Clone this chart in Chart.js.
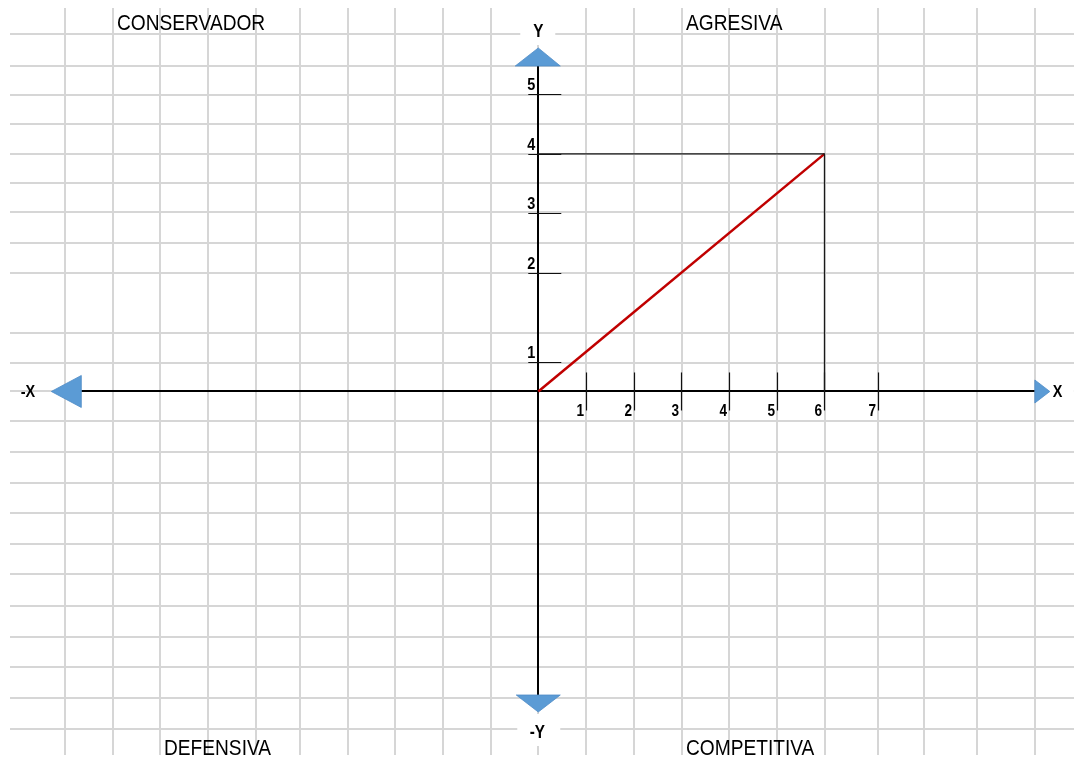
<!DOCTYPE html>
<html><head><meta charset="utf-8">
<script src="https://cdn.jsdelivr.net/npm/chart.js@4.4.1/dist/chart.umd.min.js"></script>
<style>html,body{margin:0;padding:0;background:#fff;overflow:hidden}#wrap{width:1074px;height:757px}</style>
</head><body><div id="wrap"><canvas id="c" width="1074" height="757"></canvas></div>
<script>
// ---- data ----
const xTickLabels = ['1','2','3','4','5','6','7'];
const xTickValues = [1, 2, 3, 4, 5, 6, 7.12];
const yTickLabels = ['1','2','3','4','5'];
const yTickValues = [0.49, 2, 3, 4, 5];
const seriesX = [0, 6];
const seriesY = [0, 4];
const guideX = [0, 6, 6];
const guideY = [4, 4, 0];
const gridX = [-9.92,-8.91,-7.93,-6.92,-5.91,-4.99,-3.98,-3.0,-1.99,-0.99,0,1.01,2.01,3.02,4.0,5.01,6.02,7.13,8.09,9.2,10.42];
const gridY = [6.02,5.48,4.99,4.50,4.00,3.51,3.02,2.50,2.00,0.99,0.48,0,-0.50,-1.02,-1.54,-2.05,-2.57,-3.07,-3.61,-4.13,-4.64,-5.16,-5.68];
const axisXRange = [-9.58, 10.41];
const axisYRange = [-5.11, 5.48];
const quadrantNames = ['CONSERVADOR','AGRESIVA','DEFENSIVA','COMPETITIVA'];
const axisNames = ['X','-X','Y','-Y'];

// ---- layout / style ----
const FONT = '"Liberation Sans Narrow","Arial Narrow","Liberation Sans",Arial,sans-serif';
const quadPos = [[117,30],[686,30],[164,755],[686,755]];

function narrowText(ctx, text, x, y, align, sx){
  const w = ctx.measureText(text).width * sx;
  let left = x;
  if (align === 'center') left = x - w/2;
  else if (align === 'right') left = x - w;
  ctx.save();
  ctx.translate(left, y);
  ctx.scale(sx, 1);
  ctx.textAlign = 'left';
  ctx.fillText(text, 0, 0);
  ctx.restore();
}

const drawPlugin = {
  id: 'quadrantDecor',
  beforeDraw(chart){
    const ctx = chart.ctx;
    ctx.save(); ctx.fillStyle = '#fff'; ctx.fillRect(0,0,chart.width,chart.height); ctx.restore();
  },
  beforeDatasetsDraw(chart){
    const {ctx, chartArea:a} = chart;
    const xs = chart.scales.x, ys = chart.scales.y;
    const X = v => xs.getPixelForValue(v), Y = v => ys.getPixelForValue(v);
    ctx.save();
    // spreadsheet grid
    ctx.strokeStyle = '#d6d6d6'; ctx.lineWidth = 2;
    gridX.forEach(v => { const p = Math.round(X(v)); ctx.beginPath(); ctx.moveTo(p, a.top); ctx.lineTo(p, a.bottom); ctx.stroke(); });
    gridY.forEach(v => { const p = Math.round(Y(v)); ctx.beginPath(); ctx.moveTo(a.left, p); ctx.lineTo(a.right, p); ctx.stroke(); });
    // white boxes behind axis labels
    ctx.fillStyle = '#fff';
    const x0 = X(0), y0 = Y(0);
    ctx.fillRect(x0-18, 0, 35, 45);
    ctx.fillRect(x0-21, Y(axisYRange[0])+19, 43, 32);
    ctx.fillRect(X(axisXRange[1])+9, y0-10, 30, 20);
    // axes
    ctx.strokeStyle = '#000'; ctx.lineWidth = 2;
    ctx.beginPath(); ctx.moveTo(X(axisXRange[0]), Math.round(y0)); ctx.lineTo(X(axisXRange[1]), Math.round(y0)); ctx.stroke();
    ctx.beginPath(); ctx.moveTo(Math.round(x0), Y(axisYRange[1])); ctx.lineTo(Math.round(x0), Y(axisYRange[0])); ctx.stroke();
    // tick marks
    ctx.lineWidth = 1.2; ctx.strokeStyle = '#111';
    xTickValues.forEach(v => { const p = Math.round(X(v))+0.5; ctx.beginPath(); ctx.moveTo(p, y0-19); ctx.lineTo(p, y0+19); ctx.stroke(); });
    yTickValues.forEach(v => { const p = Math.round(Y(v))+0.5; ctx.beginPath(); ctx.moveTo(x0-10, p); ctx.lineTo(x0+23, p); ctx.stroke(); });
    // arrowheads
    ctx.fillStyle = '#5b9bd5'; ctx.strokeStyle = '#4f8cc6'; ctx.lineWidth = 0.8;
    const tri = pts => { ctx.beginPath(); ctx.moveTo(pts[0][0],pts[0][1]); ctx.lineTo(pts[1][0],pts[1][1]); ctx.lineTo(pts[2][0],pts[2][1]); ctx.closePath(); ctx.fill(); ctx.stroke(); };
    const xl = X(axisXRange[0]), xr = X(axisXRange[1]), yt = Y(axisYRange[1]), yb = Y(axisYRange[0]);
    tri([[xl, y0-16],[xl, y0+16],[xl-30, y0]]);
    tri([[xr, y0-11.5],[xr, y0+11.5],[xr+15, y0]]);
    tri([[x0-23, yt],[x0+22, yt],[x0, yt-18]]);
    tri([[x0-22, yb],[x0+22, yb],[x0, yb+17]]);
    ctx.restore();
  },
  afterDatasetsDraw(chart){
    const ctx = chart.ctx;
    const xs = chart.scales.x, ys = chart.scales.y;
    const X = v => xs.getPixelForValue(v), Y = v => ys.getPixelForValue(v);
    const x0 = X(0), y0 = Y(0);
    ctx.save();
    ctx.fillStyle = '#000';
    ctx.textBaseline = 'alphabetic';
    // tick labels
    ctx.font = 'bold 16px ' + FONT;
    xTickValues.forEach((v,i) => narrowText(ctx, xTickLabels[i], Math.round(X(v))-2, y0+25, 'right', 0.85));
    ctx.font = 'bold 17px ' + FONT;
    yTickValues.forEach((v,i) => narrowText(ctx, yTickLabels[i], x0-3, Math.round(Y(v))-4, 'right', 0.85));
    // axis names
    ctx.font = 'bold 18px ' + FONT;
    narrowText(ctx, axisNames[2], x0, 37, 'center', 0.85);
    narrowText(ctx, axisNames[3], x0-1, Y(axisYRange[0])+43, 'center', 0.85);
    ctx.font = 'bold 17px ' + FONT;
    narrowText(ctx, axisNames[1], 28, y0+6, 'center', 0.85);
    narrowText(ctx, axisNames[0], X(axisXRange[1])+18, y0+6, 'left', 0.85);
    // quadrant names
    ctx.font = '22px ' + FONT;
    quadrantNames.forEach((t,i) => narrowText(ctx, t, quadPos[i][0], quadPos[i][1], 'left', 0.87));
    ctx.restore();
  }
};

new Chart(document.getElementById('c'), {
  type: 'scatter',
  data: {
    datasets: [
      { label: 'guia', data: guideX.map((x,i) => ({x, y: guideY[i]})), showLine: true, borderColor: '#1a1a1a', borderWidth: 1.3, pointRadius: 0, fill: false, tension: 0 },
      { label: 'posición', data: seriesX.map((x,i) => ({x, y: seriesY[i]})), showLine: true, borderColor: '#c00000', borderWidth: 2.5, pointRadius: 0, fill: false, tension: 0 }
    ]
  },
  options: {
    responsive: false,
    devicePixelRatio: 1,
    animation: false,
    layout: { padding: { left: 10, top: 8, right: 0, bottom: 2 } },
    plugins: { legend: { display: false }, tooltip: { enabled: false } },
    scales: {
      x: { type: 'linear', display: false, min: -11.075, max: 11.231 },
      y: { type: 'linear', display: false, min: -6.120, max: 6.456 }
    }
  },
  plugins: [drawPlugin]
});
</script>
</body></html>
